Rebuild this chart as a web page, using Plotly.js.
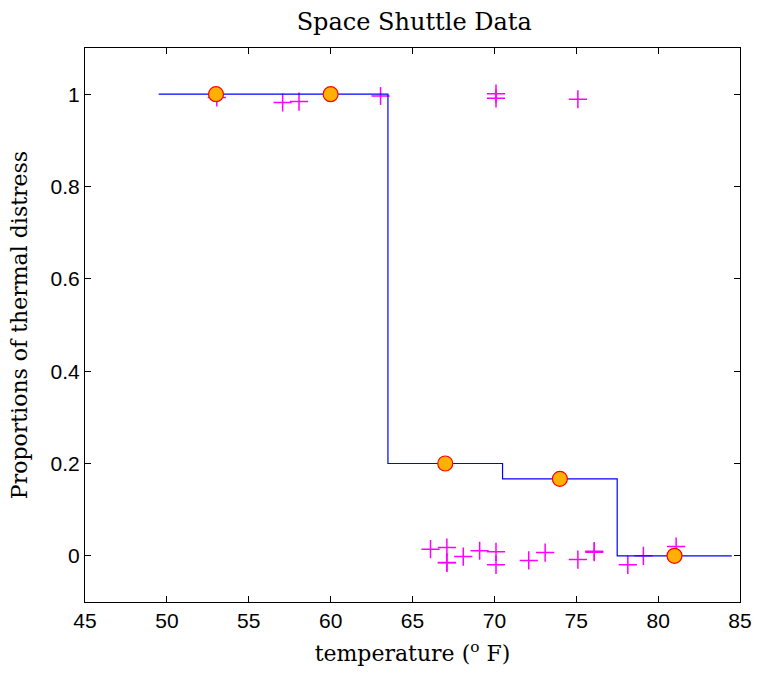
<!DOCTYPE html>
<html>
<head>
<meta charset="utf-8">
<script src="https://cdn.plot.ly/plotly-3.0.1.min.js"></script>
<style>html,body{margin:0;padding:0;background:#fff;}#chart{width:760px;height:673px;}</style>
</head>
<body>
<div id="chart"></div>
<script>
// Observed flights (jittered)
var obsTemp = [53.05, 57.07, 58.07, 63.05, 70.1, 70.1, 75.1,
               66.1, 67.1, 67.1, 67.1, 68.1, 69.1, 70.1, 70.1, 72.1, 73.1, 75.1, 76.1, 76.1, 78.15, 79.1, 81.1];
var obsProp = [0.993, 0.982, 0.984, 0.996, 1.001, 0.991, 0.989,
               0.0145, 0.018, -0.0145, -0.015, -0.0015, 0.011, 0.0087, -0.0195, -0.01, 0.007, -0.008, 0.01, 0.008, -0.0195, 0, 0.02];
// Binned step function
var stepX = [49.5, 56.5, 63.5, 70.5, 77.5, 84.5];
var stepY = [1, 1, 0.2, 0.1667, 0, 0];
// Bin centres
var binX = [53, 60, 67, 74, 81];
var binY = [1, 1, 0.2, 0.1667, 0];

var traces = [
  {x: obsTemp, y: obsProp, type: 'scatter', mode: 'markers',
   marker: {symbol: 'cross-thin', size: 13, line: {color: '#FF00FF', width: 1.5}, color: '#FF00FF'}},
  {x: stepX, y: stepY, type: 'scatter', mode: 'lines', line: {shape: 'hv', color: '#0000FF', width: 1.2}},
  {x: binX, y: binY, type: 'scatter', mode: 'markers',
   marker: {symbol: 'circle', size: 15, color: '#FFB000', line: {color: '#FF0000', width: 1.2}}}
];

var axisCommon = {
  showgrid: false, zeroline: false, showline: true, linecolor: '#000', linewidth: 1,
  mirror: 'ticks', ticks: 'inside', ticklen: 6, tickcolor: '#000',
  tickfont: {family: 'Liberation Sans, Arial, sans-serif', size: 21, color: '#000'}
};

var layout = {
  width: 760, height: 673,
  margin: {l: 85, r: 20, t: 48, b: 71},
  paper_bgcolor: '#fff', plot_bgcolor: '#fff',
  showlegend: false,
  title: {text: 'Space Shuttle Data', x: 0.545, xanchor: 'center', y: 0.968, yanchor: 'middle',
          font: {family: 'DejaVu Serif, serif', size: 24, color: '#000'}},
  xaxis: Object.assign({}, axisCommon, {range: [45, 85], dtick: 5, tick0: 45,
    title: {text: 'temperature (<sup>o</sup> F)', standoff: 14,
            font: {family: 'DejaVu Serif, serif', size: 22, color: '#000'}}}),
  yaxis: Object.assign({}, axisCommon, {range: [-0.1, 1.1], tickvals: [0, 0.2, 0.4, 0.6, 0.8, 1],
    ticktext: ['0', '0.2', '0.4', '0.6', '0.8', '1'],
    title: {text: 'Proportions of thermal distress', standoff: 16,
            font: {family: 'DejaVu Serif, serif', size: 22, color: '#000'}}})
};

Plotly.newPlot('chart', traces, layout, {displayModeBar: false, staticPlot: true});
</script>
</body>
</html>
